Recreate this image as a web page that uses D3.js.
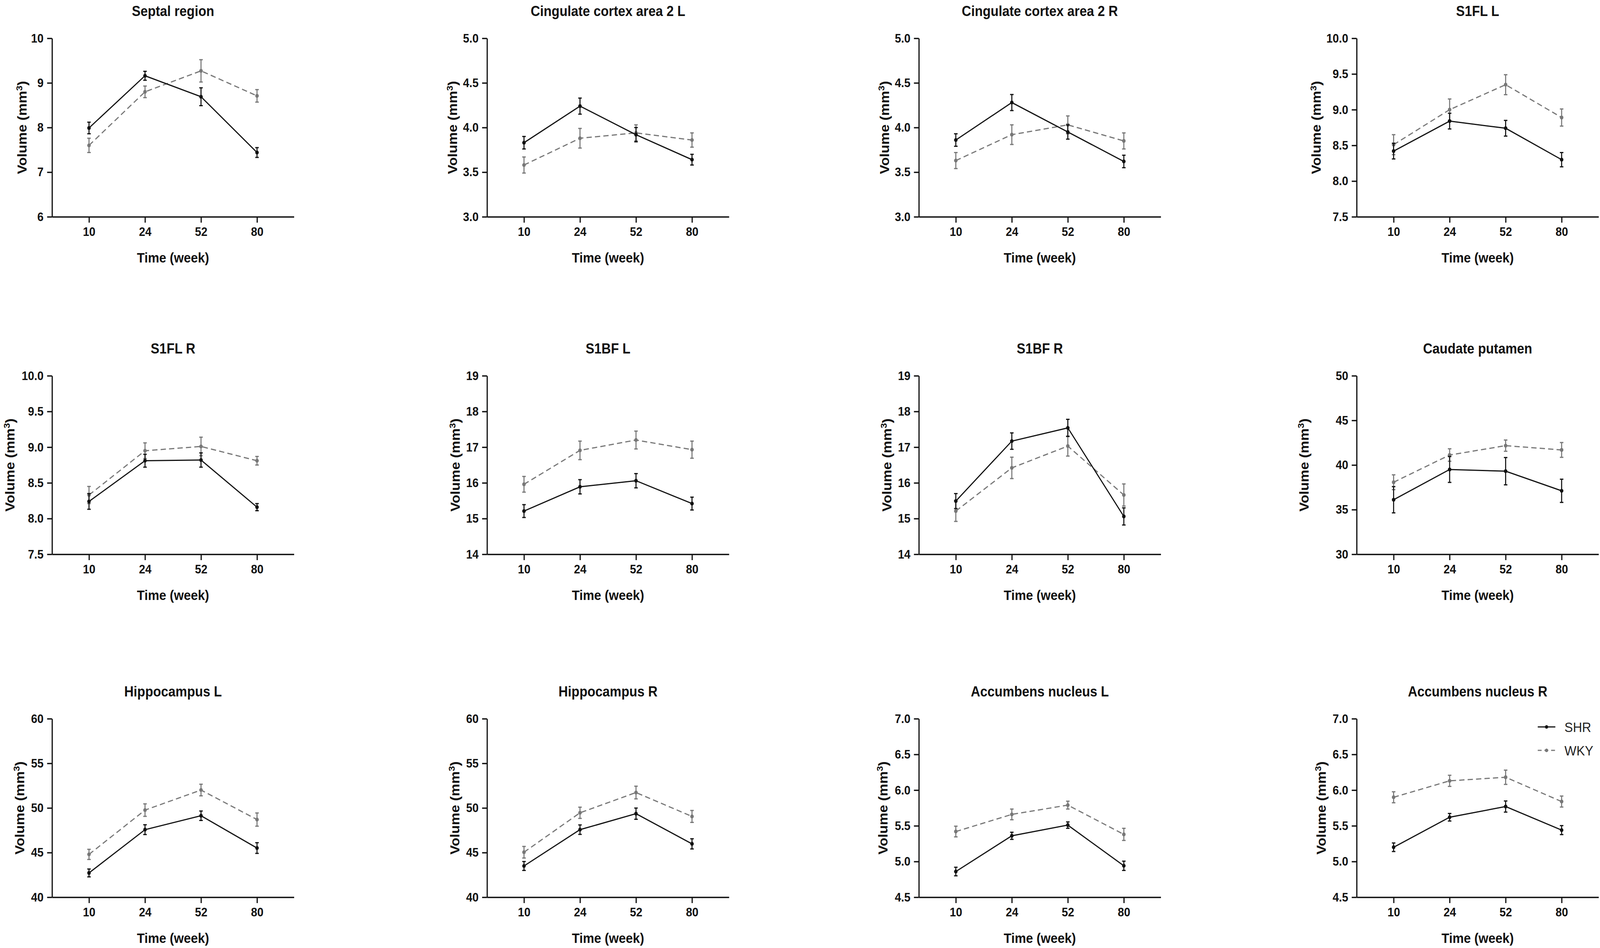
<!DOCTYPE html>
<html>
<head>
<meta charset="utf-8">
<script src="https://cdn.jsdelivr.net/npm/d3@7"></script>
<style>
  html, body { margin: 0; padding: 0; background: #fff; overflow: hidden; width: 100%; height: 100%; }
  #chart { width: 100vw; height: 100vh; }
  svg { display: block; }
  text { font-family: "Liberation Sans", Arial, sans-serif; }
</style>
</head>
<body>
<div id="chart"></div>
<script>
let width = 4550, height = 2427

// data (mean ± error per time point)
const weeks = ['10', '24', '52', '80']
const groups = ['SHR', 'WKY']
const titles = [
  'Septal region', 'Cingulate cortex area 2 L', 'Cingulate cortex area 2 R', 'S1FL L',
  'S1FL R', 'S1BF L', 'S1BF R', 'Caudate putamen',
  'Hippocampus L', 'Hippocampus R', 'Accumbens nucleus L', 'Accumbens nucleus R'
]
const yMin = [6, 3, 3, 7.5, 7.5, 14, 14, 30, 40, 40, 4.5, 4.5]
const yMax = [10, 5, 5, 10, 10, 19, 19, 50, 60, 60, 7, 7]
const yStep = [1, 0.5, 0.5, 0.5, 0.5, 1, 1, 5, 5, 5, 0.5, 0.5]

const shrMean = [
  [7.99, 9.16, 8.69, 7.44],
  [3.83, 4.24, 3.92, 3.64],
  [3.86, 4.28, 3.95, 3.62],
  [8.42, 8.84, 8.74, 8.30],
  [8.24, 8.81, 8.82, 8.16],
  [15.21, 15.89, 16.06, 15.42],
  [15.49, 17.17, 17.54, 15.06],
  [36.11, 39.50, 39.31, 37.11],
  [42.72, 47.57, 49.13, 45.51],
  [43.50, 47.57, 49.36, 45.98],
  [4.86, 5.36, 5.51, 4.94],
  [5.20, 5.62, 5.77, 5.44]
]
const shrErr = [
  [0.13, 0.10, 0.20, 0.11],
  [0.07, 0.09, 0.08, 0.06],
  [0.07, 0.09, 0.08, 0.07],
  [0.11, 0.11, 0.11, 0.10],
  [0.11, 0.09, 0.10, 0.05],
  [0.18, 0.20, 0.20, 0.18],
  [0.21, 0.23, 0.24, 0.24],
  [1.47, 1.45, 1.53, 1.30],
  [0.44, 0.55, 0.53, 0.60],
  [0.50, 0.53, 0.63, 0.57],
  [0.06, 0.05, 0.045, 0.065],
  [0.06, 0.053, 0.078, 0.063]
]
const wkyMean = [
  [7.60, 8.80, 9.27, 8.71],
  [3.58, 3.88, 3.94, 3.86],
  [3.63, 3.92, 4.03, 3.85],
  [8.51, 9.00, 9.35, 8.89],
  [8.33, 8.95, 9.01, 8.81],
  [15.96, 16.91, 17.20, 16.93],
  [15.21, 16.42, 17.03, 15.66],
  [38.07, 41.12, 42.17, 41.69],
  [44.80, 49.76, 52.01, 48.70],
  [45.04, 49.46, 51.73, 49.05],
  [5.42, 5.66, 5.79, 5.38],
  [5.90, 6.13, 6.18, 5.84]
]
const wkyErr = [
  [0.16, 0.13, 0.25, 0.14],
  [0.09, 0.11, 0.09, 0.08],
  [0.09, 0.11, 0.10, 0.09],
  [0.14, 0.15, 0.14, 0.12],
  [0.12, 0.11, 0.13, 0.06],
  [0.22, 0.26, 0.25, 0.24],
  [0.29, 0.30, 0.28, 0.31],
  [0.83, 0.70, 0.63, 0.83],
  [0.57, 0.70, 0.65, 0.74],
  [0.65, 0.63, 0.71, 0.67],
  [0.075, 0.075, 0.055, 0.085],
  [0.077, 0.078, 0.10, 0.077]
]

// layout
const colX = [148, 1385, 2613, 3858]
const rowY = [98, 962, 1840]
const plotW = 688, plotH = 457
const yLabelOff = [-85, -98, -98, -115, -120, -90, -91, -150, -92, -92, -102, -101]

const ink = '#111'
const seriesStyle = {
  SHR: { color: '#111', dash: null },
  WKY: { color: '#777', dash: '15 9' }
}

// drawn in 4550x2427 units and stretched over the whole window
let svg = d3.select('#chart')
  .append('svg')
  .attr('width', '100%')
  .attr('height', '100%')
  .attr('viewBox', `0 0 ${width} ${height}`)
  .attr('preserveAspectRatio', 'none')

svg.append('rect').attr('width', width).attr('height', height).attr('fill', '#fff')

let styleAxis = (g) => {
  g.attr('font-family', null).attr('font-size', null)
  g.select('.domain').attr('stroke', ink).attr('stroke-width', 3.4)
  g.selectAll('.tick line').attr('stroke', ink).attr('stroke-width', 3.4)
  g.selectAll('.tick text')
    .attr('fill', ink)
    .style('font-size', '32px')
    .style('font-weight', 'bold')
}

titles.forEach((title, i) => {
  let g = svg.append('g')
    .attr('transform', `translate(${colX[i % 4]}, ${rowY[Math.floor(i / 4)]})`)

  let x = d3.scalePoint().domain(weeks).range([0, plotW]).padding(0.66)
  let y = d3.scaleLinear().domain([yMin[i], yMax[i]]).range([plotH, 0])
  let ticks = d3.range(yMin[i], yMax[i] + yStep[i] / 2, yStep[i])
  let fmt = yStep[i] < 1 ? d3.format('.1f') : d3.format('d')

  g.append('g')
    .call(d3.axisLeft(y).tickValues(ticks).tickFormat(fmt)
      .tickSize(14).tickSizeOuter(0).tickPadding(10))
    .call(styleAxis)

  g.append('g')
    .attr('transform', `translate(0, ${plotH})`)
    .call(d3.axisBottom(x).tickSize(15).tickSizeOuter(0).tickPadding(11))
    .call(styleAxis)

  // titles
  g.append('text')
    .attr('x', plotW / 2)
    .attr('y', -57)
    .attr('text-anchor', 'middle')
    .attr('fill', ink)
    .style('font-size', '37px')
    .style('font-weight', 'bold')
    .text(title)

  g.append('text')
    .attr('x', plotW / 2)
    .attr('y', plotH + 117)
    .attr('text-anchor', 'middle')
    .attr('fill', ink)
    .style('font-size', '36px')
    .style('font-weight', 'bold')
    .text('Time (week)')

  let yl = g.append('text')
    .attr('transform', `translate(${yLabelOff[i] + 13}, ${plotH / 2}) rotate(-90)`)
    .attr('text-anchor', 'middle')
    .attr('fill', ink)
    .style('font-size', '36px')
    .style('font-weight', 'bold')
  yl.append('tspan').text('Volume (mm')
  yl.append('tspan').attr('dy', -13).style('font-size', '24px').text('3')
  yl.append('tspan').attr('dy', 13).text(')')

  let series = [
    { name: 'WKY', mean: wkyMean[i], err: wkyErr[i] },
    { name: 'SHR', mean: shrMean[i], err: shrErr[i] }
  ]

  series.forEach(s => {
    let st = seriesStyle[s.name]
    let pts = weeks.map((w, k) => ({ w: w, m: s.mean[k], e: s.err[k] }))

    g.append('path')
      .datum(pts)
      .attr('fill', 'none')
      .attr('stroke', st.color)
      .attr('stroke-width', 3)
      .attr('stroke-dasharray', st.dash)
      .attr('d', d3.line().x(d => x(d.w)).y(d => y(d.m)))

    let bars = g.append('g')
      .attr('stroke', st.color)
      .attr('stroke-width', 3)
      .selectAll('g')
      .data(pts)
      .enter()
      .append('g')
    bars.append('line')
      .attr('x1', d => x(d.w)).attr('x2', d => x(d.w))
      .attr('y1', d => y(d.m - d.e)).attr('y2', d => y(d.m + d.e))
    bars.append('line')
      .attr('x1', d => x(d.w) - 5).attr('x2', d => x(d.w) + 5)
      .attr('y1', d => y(d.m + d.e)).attr('y2', d => y(d.m + d.e))
    bars.append('line')
      .attr('x1', d => x(d.w) - 5).attr('x2', d => x(d.w) + 5)
      .attr('y1', d => y(d.m - d.e)).attr('y2', d => y(d.m - d.e))

    g.append('g')
      .selectAll('circle')
      .data(pts)
      .enter()
      .append('circle')
      .attr('cx', d => x(d.w))
      .attr('cy', d => y(d.m))
      .attr('r', 5)
      .attr('fill', st.color)
  })

  // legend sits in the last panel
  if (i === titles.length - 1) {
    let lg = g.append('g').attr('transform', 'translate(515, 21)')
    let items = lg.selectAll('g')
      .data(groups)
      .enter()
      .append('g')
      .attr('transform', (d, k) => `translate(0, ${k * 60})`)
    items.append('line')
      .attr('x1', 0).attr('x2', 50)
      .attr('stroke', d => seriesStyle[d].color)
      .attr('stroke-width', 3)
      .attr('stroke-dasharray', d => d === 'WKY' ? '11 8' : null)
    items.append('circle')
      .attr('cx', 25).attr('r', 4.5)
      .attr('fill', d => seriesStyle[d].color)
    items.append('text')
      .attr('x', 76)
      .attr('dy', '0.35em')
      .attr('fill', '#222')
      .style('font-size', '36px')
      .text(d => d)
  }
})
</script>
</body>
</html>
